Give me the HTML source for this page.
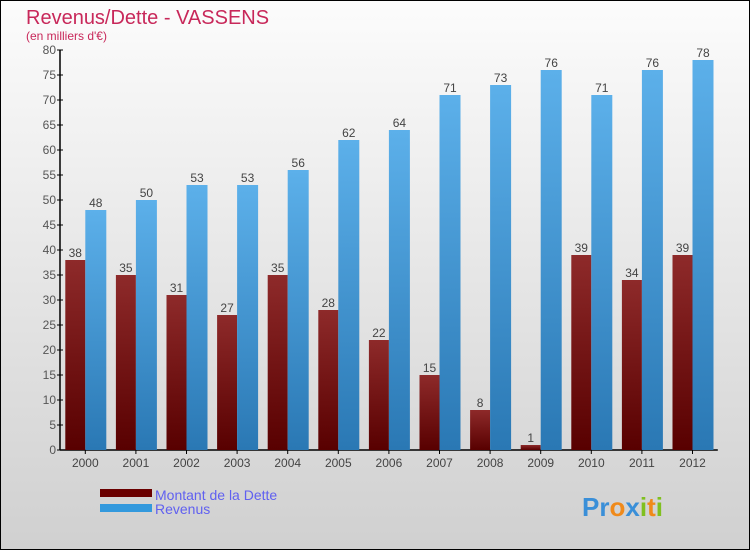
<!DOCTYPE html>
<html><head><meta charset="utf-8"><style>
body{margin:0;width:750px;height:550px;overflow:hidden;font-family:"Liberation Sans",sans-serif}
</style></head><body>
<svg width="750" height="550" xmlns="http://www.w3.org/2000/svg">
<defs>
<linearGradient id="bg" x1="0" y1="0" x2="0" y2="1"><stop offset="0" stop-color="#fcfcfc"/><stop offset="1" stop-color="#d0d0d0"/></linearGradient>
<linearGradient id="gr" x1="0" y1="0" x2="0" y2="1"><stop offset="0" stop-color="#8e2a2a"/><stop offset="1" stop-color="#580000"/></linearGradient>
<linearGradient id="gb" x1="0" y1="0" x2="0" y2="1"><stop offset="0" stop-color="#5cb0ea"/><stop offset="1" stop-color="#2a78b4"/></linearGradient>
</defs>
<rect x="0.5" y="0.5" width="749" height="549" fill="url(#bg)" stroke="#000"/>
<text x="26" y="24" font-size="20" fill="#c8285a">Revenus/Dette - VASSENS</text>
<text x="26" y="40" font-size="12" fill="#c8285a">(en milliers d'€)</text>
<g id="axes"></g>
<g id="bars"></g>
<rect x="100" y="489" width="52" height="8" fill="#6a0000"/>
<text x="155" y="500" font-size="14" fill="#6060f0">Montant de la Dette</text>
<rect x="100" y="504" width="52" height="8" fill="#3399dd"/>
<text x="155" y="514" font-size="14" fill="#6060f0">Revenus</text>
<text x="582" y="516" font-size="26" font-weight="bold"><tspan fill="#3a8fd8">Pr</tspan><tspan fill="#f08a1a">o</tspan><tspan fill="#3a8fd8">x</tspan><tspan fill="#80c020">i</tspan><tspan fill="#f08a1a">t</tspan><tspan fill="#80c020">i</tspan></text>
</svg>
<script>
const years=["2000","2001","2002","2003","2004","2005","2006","2007","2008","2009","2010","2011","2012"];
const debt=[38,35,31,27,35,28,22,15,8,1,39,34,39];
const revenue=[48,50,53,53,56,62,64,71,73,76,71,76,78];
const yTicks=[0,5,10,15,20,25,30,35,40,45,50,55,60,65,70,75,80];
const NS="http://www.w3.org/2000/svg";
const x0=60,band=50.6,y0=450,yMax=80,yTop=50;
const y=v=>y0-(v/yMax)*(y0-yTop);
const xc=i=>x0+band*(i+0.5);
function mk(tag,attrs,parent,txt){const e=document.createElementNS(NS,tag);for(const k in attrs)e.setAttribute(k,attrs[k]);if(txt!==undefined)e.textContent=txt;parent.appendChild(e);return e;}
const ax=document.getElementById('axes'),bg=document.getElementById('bars');
let l=mk('line',{x1:x0,y1:yTop,x2:x0,y2:y0,stroke:'#000','stroke-width':1.5},ax);


l=mk('line',{x1:x0,y1:y0,x2:x0+band*years.length,y2:y0,stroke:'#000','stroke-width':1.5},ax);


yTicks.forEach(v=>{
 const t=mk('line',{x1:x0-3,y1:y(v),x2:x0+3,y2:y(v),stroke:'#000'},ax);
 
 
 const tx=mk('text',{x:x0-4,y:y(v)+4,'font-size':12,fill:'#555','text-anchor':'end'},ax,String(v));
 
 
});
years.forEach((yr,i)=>{
 const c=xc(i);
 const t=mk('line',{x1:c,y1:y0,x2:c,y2:y0+4,stroke:'#000'},ax);
 
 
 const tx=mk('text',{x:c,y:y0+17,'font-size':12,fill:'#444','text-anchor':'middle'},ax,yr);
 
 
 const r=mk('rect',{x:c-20,y:y(debt[i]),width:20,height:y0-y(debt[i]),fill:'url(#gr)'},bg);
 
 
 const b=mk('rect',{x:c,y:y(revenue[i]),width:21,height:y0-y(revenue[i]),fill:'url(#gb)'},bg);
 
 
 const dl=mk('text',{x:c-10,y:y(debt[i])-3,'font-size':12,fill:'#444','text-anchor':'middle'},bg,String(debt[i]));
 
 
 const rl=mk('text',{x:c+10.5,y:y(revenue[i])-3,'font-size':12,fill:'#444','text-anchor':'middle'},bg,String(revenue[i]));
 
 
});
</script>
</body></html>
